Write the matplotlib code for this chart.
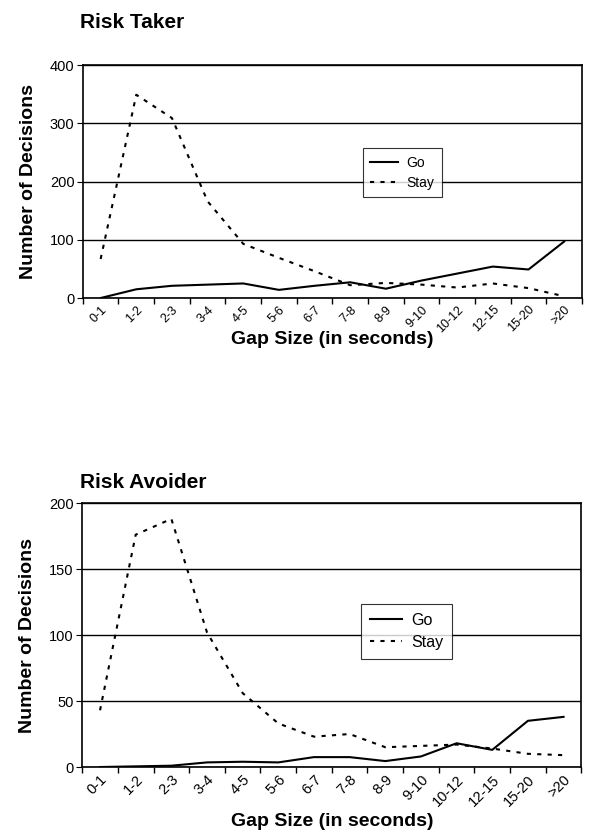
import numpy as np
import matplotlib.pyplot as plt

plt.rcParams['font.family'] = ['Liberation Sans', 'DejaVu Sans']

gaps = ['0-1', '1-2', '2-3', '3-4', '4-5', '5-6', '6-7', '7-8', '8-9',
        '9-10', '10-12', '12-15', '15-20', '>20']

# Risk Taker
taker_go = [0, 15, 21, 23, 25, 14, 21, 27, 16, 30, 42, 54, 49, 97]
taker_stay = [67, 349, 309, 166, 93, 69, 46, 22, 26, 23, 18, 25, 17, 3]

# Risk Avoider
avoider_go = [0, 0.5, 1, 3.5, 4, 3.5, 7.5, 7.5, 4.5, 8, 18, 13, 35, 38]
avoider_stay = [43, 176, 188, 102, 56, 33, 23, 25, 15, 16, 17, 14, 10, 9]


def panel(ax, go, stay, ymax, ystep, leg_pos, leg_size, xlab_y, tick_size):
    x = np.arange(len(gaps))
    ax.plot(x, go, color='black', lw=1.5, label='Go')
    ax.plot(x, stay, color='black', lw=1.5, dashes=(2, 3), label='Stay')
    ax.set_xlim(-0.5, len(gaps) - 0.5)
    ax.set_ylim(0, ymax)
    ax.set_yticks(np.arange(0, ymax + 1, ystep))
    ax.yaxis.grid(True, color='black', lw=1)
    ax.set_axisbelow(True)
    ax.set_xticks(x)
    ax.set_xticklabels(gaps, rotation=45, ha='right', rotation_mode='anchor')
    ax.set_xticks(np.arange(-0.5, len(gaps), 1), minor=True)
    ax.tick_params(axis='x', which='major', length=0, labelsize=tick_size, pad=4)
    ax.tick_params(axis='x', which='minor', length=4, direction='out', width=1)
    ax.tick_params(axis='y', length=4, direction='out', labelsize=10.5, pad=2)
    for s in ax.spines.values():
        s.set_linewidth(1.2)
        s.set_color('black')
    ax.set_ylabel('Number of Decisions', fontsize=14, fontweight='bold')
    ax.set_xlabel('Gap Size (in seconds)', fontsize=14, fontweight='bold')
    ax.yaxis.set_label_coords(-0.092, 0.5)
    ax.xaxis.set_label_coords(0.5, xlab_y)
    leg = ax.legend(loc='upper left', bbox_to_anchor=leg_pos, fontsize=leg_size,
                    frameon=True, fancybox=False, handlelength=2.0,
                    handletextpad=0.6, borderpad=0.55, labelspacing=0.45)
    leg.get_frame().set_edgecolor('black')
    leg.get_frame().set_linewidth(0.8)


fig = plt.figure(figsize=(6, 8.32), dpi=100)

ax1 = fig.add_axes([0.138, 0.6418, 0.832, 0.280])
panel(ax1, taker_go, taker_stay, 400, 100, (0.547, 0.674), 10, -0.14, 9)
fig.text(80 / 600, 1 - 23 / 832, 'Risk Taker', fontsize=15, fontweight='bold',
         va='center', ha='left')

ax2 = fig.add_axes([0.137, 0.0781, 0.832, 0.3173])
panel(ax2, avoider_go, avoider_stay, 200, 50, (0.543, 0.648), 11.5, -0.175, 10.5)
fig.text(80 / 600, 1 - 483 / 832, 'Risk Avoider', fontsize=15, fontweight='bold',
         va='center', ha='left')

fig.savefig('out.png', dpi=100)
